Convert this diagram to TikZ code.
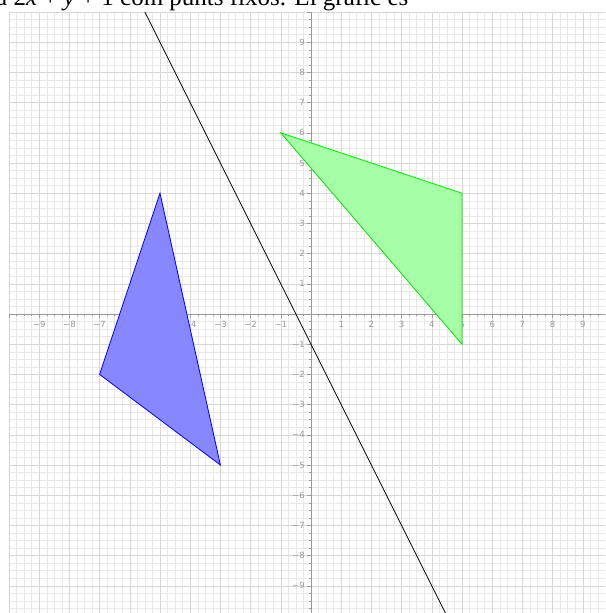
\documentclass[tikz,border=0pt]{standalone}
\usepackage{fontspec}
\setmainfont{Liberation Serif}
\newfontfamily\lblfont{DejaVu Sans}
\begin{document}
\begin{tikzpicture}[x=1pt,y=-1pt,
  minorgrid/.style={draw=black!9,line width=0.5pt},
  majorgrid/.style={draw=black!16,line width=0.5pt},
  axisline/.style={draw=black!40,line width=1pt},
  ticklbl/.style={font=\lblfont\fontsize{8.5}{9}\selectfont,text=black!40,inner sep=0pt},
  bluetri/.style={draw=blue,line width=0.8pt,fill=blue!47},
  greentri/.style={draw=green!90!black,line width=0.8pt,fill=green!35},
  graphline/.style={draw=black,line width=0.8pt}]
\useasboundingbox (0,0) rectangle (605,613);
\fill[white] (0,0) rectangle (605,613);
% clipped title text
\begin{scope}
\clip (0,0) rectangle (605,11);
\node[anchor=base west,inner sep=0pt,font=\fontsize{25}{28}\selectfont] (title) at (-4,5.5) {a 2\textit{x} + \textit{y} + 1 com punts fixos. El gràfic és};
\end{scope}
\begin{scope}
\clip (8,11) rectangle (605,613);
\begin{scope}[shift={(311,314)},x=30.2pt,y=30.2pt]
  \draw[minorgrid] (-10,-10) grid[step=0.25] (10,10);
  \draw[majorgrid] (-10,-10) grid[step=1] (10,10);
  \draw[axisline] (-10,0) -- (10,0);
  \draw[axisline] (0,-10) -- (0,10);
  \foreach \i in {-40,...,40} {
    \draw[black!40,line width=0.5pt] (\i/4,0) -- (\i/4,-0.07);
    \draw[black!40,line width=0.5pt] (0,\i/4) -- (-0.07,\i/4);
  }
  \foreach \i in {-10,...,10} {
    \draw[black!40,line width=0.5pt] (\i,0) -- (\i,-0.14);
    \draw[black!40,line width=0.5pt] (0,\i) -- (-0.14,\i);
  }
  \foreach \i in {1,...,9} {
    \node[ticklbl,anchor=north] (xp\i) at (\i,-0.22) {\i};
    \node[ticklbl,anchor=north] (xm\i) at (-\i,-0.22) {−\i};
    \node[ticklbl,anchor=east] (yp\i) at (-0.2,\i) {\i};
    \node[ticklbl,anchor=east] (ym\i) at (-0.2,-\i) {−\i};
  }
  % line 2x + y + 1 = 0
  \coordinate (ltop) at (-5.5,10);
  \coordinate (lbot) at (4.5,-10);
  \draw[graphline] (ltop) -- (lbot);
  % triangles
  \coordinate (b1) at (-5,4);
  \coordinate (b2) at (-7,-2);
  \coordinate (b3) at (-3,-5);
  \coordinate (g1) at (-1,6);
  \coordinate (g2) at (5,4);
  \coordinate (g3) at (5,-1);
  \draw[bluetri] (b1) -- (b2) -- (b3) -- cycle;
  \draw[greentri] (g1) -- (g2) -- (g3) -- cycle;
\end{scope}
\end{scope}
\end{tikzpicture}
\end{document}
